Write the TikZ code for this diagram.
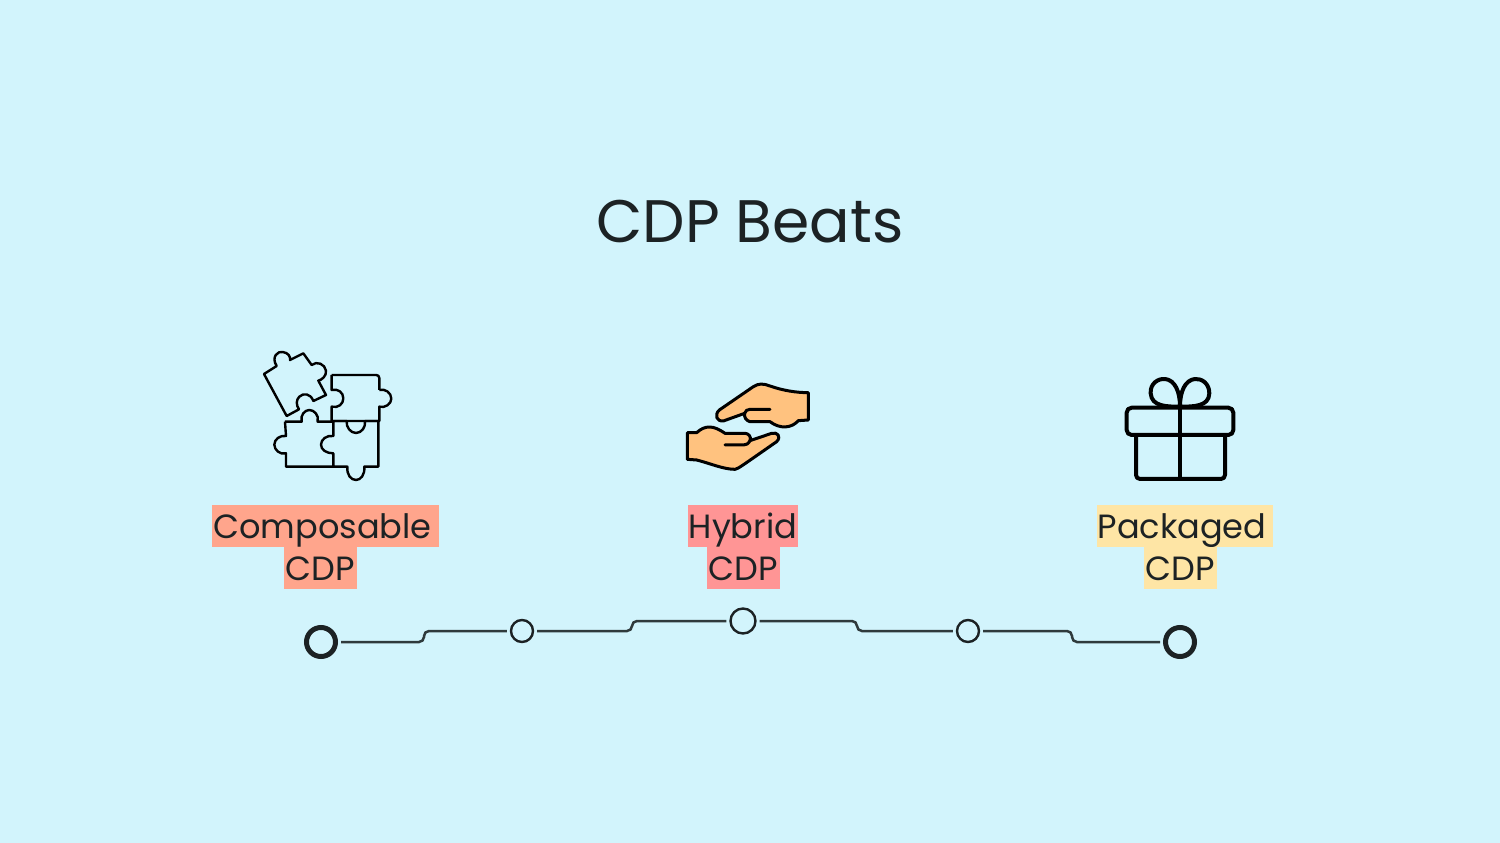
\documentclass[tikz,border=0pt]{standalone}
\usepackage{fontspec}
\setmainfont{Poppins}
\usetikzlibrary{positioning}
\definecolor{skybg}{HTML}{D2F4FC}
\definecolor{ink}{HTML}{1C2224}
\definecolor{wire}{HTML}{2F3A3C}
\definecolor{salmon}{HTML}{FFA58C}
\definecolor{rosy}{HTML}{FF9595}
\definecolor{butter}{HTML}{FEE5A5}
\definecolor{palm}{HTML}{FFC27F}
\tikzstyle{tag} = [inner sep=0pt, minimum height=42pt, text height=32pt, text depth=7pt, text=ink, font=\fontsize{33.6}{34}\selectfont]
\tikzstyle{dotbig} = [circle, draw=ink, line width=5pt, minimum size=29pt, inner sep=0pt]
\tikzstyle{dotsmall} = [circle, draw=ink, line width=2.4pt, minimum size=22pt, inner sep=0pt]
\tikzstyle{dotmid} = [circle, draw=ink, line width=2.4pt, minimum size=25pt, inner sep=0pt]
\tikzstyle{link} = [draw=wire, line width=2.5pt, rounded corners=5pt, shorten <=3pt, shorten >=3pt]
\tikzstyle{puzzle} = [draw=black, line width=2.4pt, line join=round]
\tikzstyle{hand} = [draw=black, fill=palm, line width=3pt, line join=round, line cap=round]
\tikzstyle{gift} = [draw=black, line width=4pt, line join=round]
\begin{document}
\begin{tikzpicture}[x=1pt, y=-1pt]%
	\useasboundingbox (0,0) rectangle (1500,843);%
	\fill[skybg] (0,0) rectangle (1500,843);%
	\node (title) at (750,222) [text=ink, font=\fontsize{60}{60}\selectfont] {CDP Beats};%
	% labels
	\node (composable) at (325.5,526) [tag, fill=salmon, minimum width=227pt] {Composable\hspace{6pt}\mbox{}};%
	\node (composablecdp) at (320.5,568) [tag, fill=salmon, minimum width=73pt] {CDP};%
	\node (hybrid) at (743,526) [tag, fill=rosy, minimum width=110pt] {Hybrid};%
	\node (hybridcdp) at (743,568) [tag, fill=rosy, minimum width=73pt] {CDP};%
	\node (packaged) at (1185,526) [tag, fill=butter, minimum width=176pt] {Packaged\hspace{6pt}\mbox{}};%
	\node (packagedcdp) at (1180.5,568) [tag, fill=butter, minimum width=73pt] {CDP};%
	% timeline
	\node (beat1) at (321,642) [dotbig] {};%
	\node (beat2) at (522,631) [dotsmall] {};%
	\node (beat3) at (743,621) [dotmid] {};%
	\node (beat4) at (968,631) [dotsmall] {};%
	\node (beat5) at (1180,642) [dotbig] {};%
	\coordinate (step1) at (424,631);%
	\coordinate (step2) at (632,621);%
	\coordinate (step3) at (857,631);%
	\coordinate (step4) at (1072,642);%
	\draw[link] (beat1.east) -| (step1) -- (beat2.west);%
	\draw[link] (beat2.east) -| (step2) -- (beat3.west);%
	\draw[link] (beat3.east) -| (step3) -- (beat4.west);%
	\draw[link] (beat4.east) -| (step4) -- (beat5.west);%
	% puzzle icon
	\begin{scope}[shift={(250,340)}, x=.3333pt, y=-.3333pt]%
		\draw[puzzle] (42,102) -- (80,78) .. controls (62,50) and (85,32) .. (98,36) .. controls (115,38) and (122,50) .. (120,60) -- (160,40) -- (185,75) .. controls (200,62) and (225,72) .. (228,92) .. controls (230,108) and (215,120) .. (205,122) -- (228,165) -- (190,183) .. controls (182,160) and (160,158) .. (148,170) .. controls (138,180) and (138,195) .. (147,208) -- (110,228) -- cycle;%
		\draw[puzzle, rounded corners=3pt] (245,105) -- (388,105) -- (388,150);%
		\draw[puzzle] (388,150) .. controls (405,145) and (424,158) .. (424,176) .. controls (424,192) and (405,205) .. (388,200) -- (388,243) -- (245,243) -- (245,200) .. controls (265,205) and (280,192) .. (280,175) .. controls (280,158) and (265,145) .. (245,150) -- (245,105);%
		\draw[puzzle] (250,243) -- (290,243) .. controls (288,262) and (302,279) .. (318,279) .. controls (334,279) and (348,262) .. (345,243) -- (385,243) -- (385,380) -- (343,380) .. controls (345,405) and (332,420) .. (318,420) .. controls (303,420) and (290,405) .. (292,380) -- (250,380) -- (250,340) .. controls (230,340) and (213,330) .. (213,314) .. controls (213,298) and (230,285) .. (250,288) -- cycle;%
		\draw[puzzle] (105,245) -- (155,245) .. controls (150,225) and (165,210) .. (178,210) .. controls (192,210) and (208,225) .. (203,245) -- (250,245);%
		\draw[puzzle] (250,380) -- (108,380) -- (108,340) .. controls (90,345) and (73,330) .. (73,314) .. controls (73,298) and (90,285) .. (108,288) -- (105,245);%
	\end{scope}%
	% hands icon
	\begin{scope}[shift={(670,370)}, x=.3333pt, y=-.3333pt]%
		\draw[hand] (415,68) -- (415,150) -- (385,152) .. controls (365,175) and (330,178) .. (300,155) -- (240,155) .. controls (228,152) and (222,142) .. (224,130) -- (160,153) .. controls (140,155) and (132,135) .. (148,120) -- (250,50) .. controls (265,40) and (280,40) .. (300,48) .. controls (340,62) and (380,68) .. (415,68) -- cycle;%
		\draw[hand] (224,130) .. controls (226,122) and (232,118) .. (240,118) -- (300,118);%
		\draw[hand] (52,188) -- (52,268) -- (80,270) .. controls (120,280) and (160,298) .. (195,298) .. controls (205,296) and (212,290) .. (320,215) .. controls (335,200) and (322,185) .. (305,190) -- (240,212) .. controls (245,200) and (235,190) .. (225,190) -- (165,190) .. controls (130,165) and (105,165) .. (80,188) -- cycle;%
		\draw[hand] (240,212) .. controls (235,222) and (228,225) .. (220,225) -- (165,225);%
	\end{scope}%
	% gift icon
	\begin{scope}[shift={(1110,365)}, x=.3333pt, y=-.3333pt]%
		\draw[gift, rounded corners=5pt] (50,128) rectangle (370,210);%
		\draw[gift, rounded corners=4pt] (78,210) -- (78,342) -- (345,342) -- (345,210);%
		\draw[gift] (210,85) -- (210,342);%
		\draw[gift] (210,125) .. controls (170,125) and (125,125) .. (122,85) .. controls (120,55) and (145,40) .. (165,42) .. controls (195,45) and (210,80) .. (210,125);%
		\draw[gift] (210,125) .. controls (250,125) and (297,125) .. (298,85) .. controls (298,55) and (275,40) .. (255,42) .. controls (225,45) and (210,80) .. (210,125);%
	\end{scope}%
\end{tikzpicture}
\end{document}
